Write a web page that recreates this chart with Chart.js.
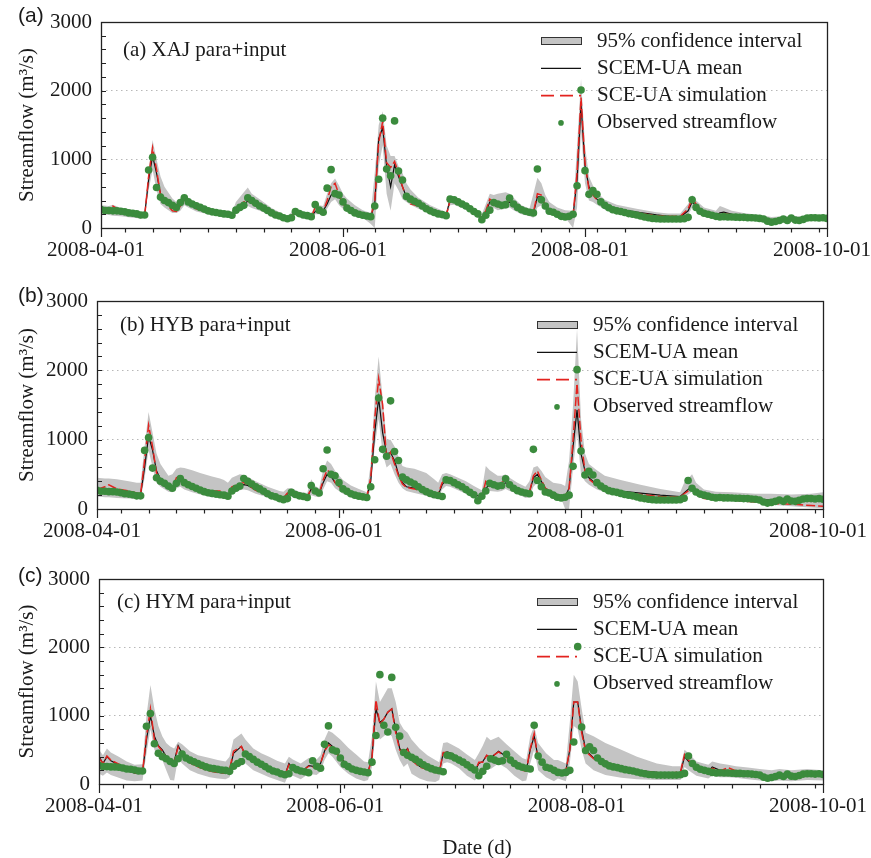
<!DOCTYPE html>
<html><head><meta charset="utf-8">
<script src="https://cdn.jsdelivr.net/npm/chart.js@4.4.1/dist/chart.umd.min.js"></script>
<style>
html,body{margin:0;padding:0;background:#fff;}
#wrap{position:relative;width:871px;height:858px;overflow:hidden;background:#fff;}
canvas{position:absolute;left:0;}
</style></head><body>
<div id="wrap">
<canvas id="ca" width="871" height="280" style="top:0px"></canvas>
<canvas id="cb" width="871" height="276" style="top:280px"></canvas>
<canvas id="cc" width="871" height="302" style="top:556px"></canvas>
</div>
<script>
// ---------------- DATA ----------------
const tickDays = [0, 61, 122, 183];
const tickLabels = ['2008-04-01', '2008-06-01', '2008-08-01', '2008-10-01'];
const yTicks = [0, 1000, 2000, 3000];
const seriesNames = ['95% confidence interval', 'SCEM-UA mean', 'SCE-UA simulation', 'Observed streamflow'];
const panelTitles = ['(a) XAJ para+input', '(b) HYB para+input', '(c) HYM para+input'];
const panelLetters = ['(a)', '(b)', '(c)'];

// observed daily streamflow, day 0 = 2008-04-01
const observed = [
 270,255,255,250,250,245,235,220,215,205,
 190,190,845,1030,590,450,400,370,330,300,
 370,440,380,350,325,300,275,250,235,225,
 215,205,200,185,260,300,330,440,400,360,
 320,290,255,220,190,175,150,135,150,240,
 210,190,180,165,340,260,230,580,850,500,
 480,380,290,255,220,200,185,175,165,320,
 710,1600,860,760,1560,830,700,460,420,390,
 360,320,280,250,225,205,195,180,420,410,
 380,350,320,280,240,205,120,185,260,370,
 350,330,340,435,350,300,265,245,230,220,
 860,410,320,245,230,200,170,160,170,200,
 615,2010,835,490,545,490,380,330,295,265,
 250,240,225,210,200,190,175,160,150,140,
 135,130,130,130,130,130,130,135,155,410,
 300,245,215,200,185,170,160,165,160,160,
 158,155,155,150,150,145,140,130,100,85,
 95,110,130,110,145,115,110,125,145,150,
 150,145,150,140];

// (a) XAJ
const xajDays = [0,2,3,5,8,10,11,12,13,14,
 15,16,18,19,20,21,22,24,27,30,
 33,34,36,37,38,40,43,46,47,48,
 49,50,53,54,55,56,57,58,59,60,
 61,62,64,66,68,69,70,71,72,73,
 74,75,76,77,78,80,83,85,87,88,
 89,91,93,95,96,97,98,99,100,102,
 103,104,106,108,109,110,111,112,113,115,
 117,119,120,121,122,123,124,125,127,130,
 135,140,143,146,148,149,150,152,155,156,
 157,159,162,166,169,172,176,180,183];
const xajMean = [260,250,240,230,200,185,190,700,1050,800,
 500,420,300,280,330,430,380,300,240,210,
 185,260,350,390,370,320,230,160,140,170,
 240,210,170,240,260,250,350,480,520,450,
 380,320,250,200,165,350,1300,1460,900,600,
 920,750,600,450,410,330,260,220,185,420,
 400,340,290,200,150,220,380,360,320,340,
 380,330,260,220,220,450,460,320,260,220,
 200,190,700,1800,900,600,500,420,330,280,
 230,190,170,160,250,380,320,230,180,220,
 230,200,170,150,120,130,130,140,150];
const xajSim = [260,290,320,250,190,155,170,750,1170,850,
 480,380,250,240,320,410,360,280,230,200,
 180,280,380,400,360,300,220,150,130,170,
 230,200,160,300,260,240,400,600,650,480,
 350,290,240,190,160,400,1250,1550,950,880,
 970,800,600,440,350,320,250,210,180,400,
 390,330,280,190,150,250,420,380,310,350,
 420,340,250,210,230,500,480,310,250,210,
 190,190,800,1900,950,560,480,410,320,270,
 220,180,170,170,280,430,350,240,180,200,
 210,190,170,140,100,130,140,150,150];
const xajLow = [200,190,180,170,150,140,150,550,850,550,
 350,300,220,220,250,330,300,240,200,180,
 160,200,280,320,290,250,180,110,100,130,
 190,170,130,200,200,200,280,380,420,330,
 280,250,200,150,60,0,900,1200,500,250,
 650,550,420,380,340,280,210,180,150,330,
 340,290,240,150,110,160,260,290,260,280,
 300,260,200,170,150,300,330,250,210,180,
 150,0,300,1400,650,400,380,340,270,230,
 190,160,140,130,190,300,260,190,150,160,
 170,160,140,120,90,100,100,110,120];
const xajHigh = [330,320,340,290,250,230,230,850,1280,1000,
 750,600,430,380,430,480,440,360,290,250,
 220,380,520,590,500,420,290,200,180,230,
 280,250,210,330,330,320,500,650,720,620,
 500,430,330,260,220,800,1500,1700,1200,1050,
 1050,900,800,650,560,440,330,280,230,450,
 440,390,330,240,200,350,500,480,500,520,
 500,440,330,280,500,730,650,480,380,300,
 260,250,1200,2170,1200,750,620,520,410,340,
 280,230,210,210,350,480,400,300,250,320,
 300,250,220,190,160,170,170,180,190];

// (b) HYB
const hybDays = [0,2,3,5,8,10,11,12,13,14,
 15,16,18,19,20,21,22,24,26,29,
 31,32,33,34,36,37,38,40,43,46,
 47,48,49,51,53,54,55,56,57,58,
 59,60,62,64,66,68,69,70,71,72,
 73,74,75,76,77,78,80,83,85,86,
 87,88,89,91,93,95,97,98,99,101,
 102,103,104,106,108,109,110,111,112,113,
 115,117,118,119,120,121,122,123,124,126,
 128,132,137,142,147,148,150,151,153,156,
 160,166,170,175,180,183];
const hybMean = [280,260,250,240,230,210,210,600,1050,850,
 550,430,320,310,380,400,350,300,270,220,
 210,200,190,290,340,350,340,280,220,170,
 160,220,230,190,170,290,230,220,380,500,
 470,380,280,220,190,170,400,1100,1600,1100,
 800,810,700,500,380,320,300,250,210,200,
 350,420,400,340,280,210,170,300,350,320,
 340,380,340,280,220,240,450,500,400,300,
 230,190,180,300,900,1430,800,550,450,350,
 300,260,230,200,180,230,330,270,200,180,
 160,140,130,130,140,150];
const hybSim = [280,320,350,290,260,230,220,700,1210,900,
 520,420,300,300,450,480,400,290,270,260,
 260,200,190,320,360,380,350,270,210,170,
 160,230,230,190,170,300,240,220,420,560,
 520,380,270,210,180,170,450,1300,1880,1500,
 720,820,650,480,360,310,290,240,220,220,
 380,420,410,330,280,200,170,400,350,330,
 380,420,360,280,220,240,480,550,420,300,
 220,180,180,300,1000,1810,1000,550,430,340,
 280,240,210,180,170,220,300,220,150,140,
 130,100,80,70,50,40];
const hybLow = [180,170,170,160,150,140,140,450,850,600,
 380,320,250,240,300,320,280,240,210,170,
 160,150,150,220,270,280,270,220,170,130,
 120,160,180,150,130,200,180,170,280,400,
 380,300,220,170,140,120,300,900,1300,800,
 600,650,500,380,300,260,230,190,160,150,
 280,330,320,270,220,160,130,220,260,250,
 260,290,260,220,160,170,320,380,300,240,
 180,150,0,0,600,1100,500,400,350,280,
 240,200,180,160,140,170,250,200,150,130,
 110,90,60,40,20,10];
const hybHigh = [450,440,440,430,400,380,380,900,1400,1100,
 800,650,480,500,580,600,590,560,520,470,
 440,420,380,450,500,490,460,400,320,260,
 250,300,300,250,230,430,330,300,560,700,
 650,550,420,340,290,240,650,1600,2200,1600,
 1000,1000,900,750,620,600,580,520,430,380,
 500,520,500,450,400,330,270,620,560,480,
 480,500,450,380,320,400,600,620,550,460,
 380,360,330,700,1500,2600,1300,800,650,560,
 480,420,350,290,240,380,500,380,280,250,
 240,220,220,210,220,240];

// (c) HYM
const hymDays = [0,1,2,3,5,7,9,11,12,13,
 14,15,16,17,18,19,20,21,23,25,
 28,30,32,33,34,36,37,39,41,43,
 45,47,48,49,51,53,55,56,57,58,
 59,61,63,65,67,68,69,70,71,72,
 73,74,75,76,77,78,79,81,83,85,
 86,87,88,89,91,93,95,96,97,98,
 99,101,103,105,107,108,109,110,111,113,
 115,116,118,119,120,121,122,123,125,128,
 132,136,141,145,147,148,149,151,154,155,
 157,159,161,164,167,170,172,175,179,183];
const hymMean = [400,300,400,340,280,210,160,170,650,1000,
 700,560,500,400,320,330,560,450,320,260,
 200,170,160,200,450,550,420,320,270,220,
 180,130,300,230,170,270,250,300,480,600,
 550,380,270,200,150,170,400,1100,900,950,
 1050,1100,800,520,450,520,360,260,220,180,
 170,450,470,450,380,280,190,300,330,420,
 380,480,400,300,210,200,500,700,380,250,
 180,200,190,500,1200,1200,800,500,380,300,
 240,200,170,160,170,400,330,220,180,250,
 200,200,180,160,130,110,150,120,150,120];
const hymSim = [380,300,410,350,290,210,160,170,700,1100,
 650,550,480,390,300,320,540,430,310,250,
 190,170,160,210,480,550,420,310,260,210,
 170,130,280,220,170,260,240,300,480,570,
 540,370,260,190,150,170,380,1230,870,950,
 1050,1100,750,500,440,510,350,250,210,170,
 170,460,460,440,370,270,180,320,320,420,
 390,470,390,290,200,190,520,740,360,240,
 180,190,190,500,1200,1200,750,480,370,290,
 230,190,170,160,180,430,350,220,180,230,
 190,240,190,160,130,110,140,120,140,120];
const hymLow = [150,120,170,130,90,50,40,50,450,800,
 500,400,350,200,60,50,380,300,200,150,
 100,80,70,100,300,400,300,200,150,100,
 60,20,150,120,70,150,130,180,350,450,
 400,250,150,80,40,60,250,800,650,700,
 750,700,500,350,250,300,150,80,40,30,
 60,300,320,300,230,120,50,120,150,250,
 220,300,230,120,40,50,300,500,200,100,
 40,80,40,300,850,800,500,300,200,130,
 90,70,60,60,60,250,200,120,80,120,
 100,100,90,70,50,40,50,40,60,50];
const hymHigh = [500,420,520,460,400,330,280,290,1000,1450,
 1100,850,700,600,550,520,620,580,480,420,
 380,350,330,400,650,740,650,520,450,400,
 340,300,400,360,300,380,360,420,650,780,
 750,650,530,430,330,320,700,1500,1200,1300,
 1400,1400,1200,900,800,750,650,520,420,350,
 320,600,610,580,520,430,350,450,560,690,
 640,690,580,480,380,360,700,850,600,450,
 350,350,300,900,1600,1500,1100,750,700,600,
 500,400,300,260,260,500,450,330,280,330,
 300,280,260,240,220,200,220,200,220,200];

// ---------------- STYLE / LAYOUT ----------------
const SERIF = "'Liberation Serif','Times New Roman',serif";
const SANS = "'Liberation Sans',Arial,sans-serif";
const TXT = '#1a1a1a';
const CI_COLOR = '#c4c4c4';
const MEAN_COLOR = '#111111';
const SIM_COLOR = '#e3231f';
const OBS_COLOR = '#3b8b3d';
Chart.defaults.font.family = SERIF;
Chart.defaults.font.size = 21;
Chart.defaults.color = TXT;

const pts = (days, vals) => days.map((d, i) => ({x: d, y: vals[i]}));
const obsPts = observed.map((v, i) => ({x: i, y: v}));

const panels = [
  {id: 'ca', top: 0, H: 280, frame: {left: 101, right: 827, top: 22, bottom: 228},
   days: xajDays, mean: xajMean, sim: xajSim, low: xajLow, high: xajHigh,
   title: panelTitles[0], letter: panelLetters[0], titlePos: [123, 50], letterPos: [18, 16], legendTop: 41, xTitle: false},
  {id: 'cb', top: 280, H: 276, frame: {left: 97, right: 823, top: 301, bottom: 509},
   days: hybDays, mean: hybMean, sim: hybSim, low: hybLow, high: hybHigh,
   title: panelTitles[1], letter: panelLetters[1], titlePos: [120, 325], letterPos: [18, 296], legendTop: 325, xTitle: false},
  {id: 'cc', top: 556, H: 302, frame: {left: 99, right: 823, top: 579, bottom: 784},
   days: hymDays, mean: hymMean, sim: hymSim, low: hymLow, high: hymHigh,
   title: panelTitles[2], letter: panelLetters[2], titlePos: [117, 602], letterPos: [18, 576], legendTop: 602, xTitle: true}
];

const deco = {
  id: 'deco',
  afterDraw(chart, args, o) {
    const p = o.panel;
    const {ctx, chartArea: a, scales: {x, y}} = chart;
    const off = p.top;
    ctx.save();
    // frame
    ctx.strokeStyle = '#222';
    ctx.lineWidth = 1.3;
    ctx.strokeRect(Math.round(a.left) + 0.5, Math.round(a.top) + 0.5, Math.round(a.right - a.left), Math.round(a.bottom - a.top));
    // x ticks (weekly minor, major at labelled dates) and y ticks every 200 (inward)
    ctx.lineWidth = 1.2;
    ctx.beginPath();
    for (let d = 6; d <= 183; d += 7) {
      const px = Math.round(x.getPixelForValue(d)) + 0.5;
      ctx.moveTo(px, a.bottom); ctx.lineTo(px, a.bottom + 4.5);
    }
    tickDays.forEach(d => {
      const px = Math.round(x.getPixelForValue(d)) + 0.5;
      ctx.moveTo(px, a.bottom); ctx.lineTo(px, a.bottom + 9);
    });
    for (let v = 0; v <= 3000; v += 200) {
      const py = Math.round(y.getPixelForValue(v)) + 0.5;
      ctx.moveTo(a.left, py); ctx.lineTo(a.left + 5, py);
    }
    ctx.stroke();

    // panel letter (sans) and inner title (serif)
    ctx.fillStyle = TXT;
    ctx.textBaseline = 'middle';
    ctx.textAlign = 'left';
    ctx.font = '21px ' + SANS;
    ctx.fillText(p.letter, p.letterPos[0], p.letterPos[1] - off);
    ctx.font = '21px ' + SERIF;
    ctx.fillText(p.title, p.titlePos[0], p.titlePos[1] - off);

    // legend
    const tx = a.right - 230;
    const step = 27.3;
    const y0 = p.legendTop - off;
    const sx0 = tx - 56, sx1 = tx - 16;
    seriesNames.forEach((name, i) => {
      const ry = y0 + i * step;
      ctx.fillStyle = TXT;
      ctx.fillText(name, tx, ry);
      ctx.save();
      if (i === 0) {
        ctx.fillStyle = CI_COLOR;
        ctx.fillRect(sx0, ry - 3.5, sx1 - sx0, 7);
        ctx.strokeStyle = '#333'; ctx.lineWidth = 1;
        ctx.strokeRect(sx0 + 0.5, ry - 3.5, sx1 - sx0, 7);
      } else if (i === 1) {
        ctx.strokeStyle = MEAN_COLOR; ctx.lineWidth = 1.3;
        ctx.beginPath(); ctx.moveTo(sx0, ry); ctx.lineTo(sx1, ry); ctx.stroke();
      } else if (i === 2) {
        ctx.strokeStyle = SIM_COLOR; ctx.lineWidth = 1.6; ctx.setLineDash([13, 6]);
        ctx.beginPath(); ctx.moveTo(sx0, ry); ctx.lineTo(sx1, ry); ctx.stroke();
      } else {
        ctx.fillStyle = OBS_COLOR;
        ctx.beginPath(); ctx.arc((sx0 + sx1) / 2, ry, 2.8, 0, Math.PI * 2); ctx.fill();
      }
      ctx.restore();
    });

    if (p.xTitle) {
      ctx.font = '21px ' + SERIF;
      ctx.textAlign = 'center';
      ctx.fillStyle = TXT;
      ctx.fillText('Date (d)', 477, 848 - off);
    }
    ctx.restore();
  }
};

panels.forEach(p => {
  const f = p.frame;
  new Chart(document.getElementById(p.id), {
    type: 'line',
    data: {
      datasets: [
        {label: 'CI low', data: pts(p.days, p.low), borderWidth: 0, borderColor: 'rgba(0,0,0,0)', pointRadius: 0, fill: false, order: 4},
        {label: seriesNames[0], data: pts(p.days, p.high), borderWidth: 0, borderColor: 'rgba(0,0,0,0)', pointRadius: 0, fill: '-1', backgroundColor: CI_COLOR, order: 3},
        {label: seriesNames[1], data: pts(p.days, p.mean), borderColor: MEAN_COLOR, borderWidth: 1.2, pointRadius: 0, fill: false, order: 2},
        {label: seriesNames[2], data: pts(p.days, p.sim), borderColor: SIM_COLOR, borderWidth: 1.5, borderDash: [9, 3], pointRadius: 0, fill: false, order: 1},
        {label: seriesNames[3], data: obsPts, showLine: false, pointRadius: 3.8, pointBackgroundColor: OBS_COLOR, pointBorderWidth: 0, pointBorderColor: OBS_COLOR, order: 0}
      ]
    },
    options: {
      responsive: false,
      animation: false,
      events: [],
      layout: {autoPadding: false, padding: {left: 0, right: 871 - f.right, top: f.top - p.top, bottom: 0}},
      plugins: {legend: {display: false}, tooltip: {enabled: false}, title: {display: false}, deco: {panel: p}},
      scales: {
        x: {
          type: 'linear', min: 0, max: 183,
          afterBuildTicks: s => { s.ticks = tickDays.map(v => ({value: v})); },
          afterFit: s => { s.height = p.H - (f.bottom - p.top); s.paddingLeft = 0; s.paddingRight = 0; },
          ticks: {autoSkip: false, maxRotation: 0, padding: 10, labelOffset: -5, color: TXT, font: {size: 21},
                  callback: (v, i) => tickLabels[i]},
          grid: {display: false, drawTicks: false},
          border: {display: false}
        },
        y: {
          min: 0, max: 3000,
          afterBuildTicks: s => { s.ticks = yTicks.map(v => ({value: v})); },
          afterFit: s => { s.width = f.left; s.paddingTop = 0; s.paddingBottom = 0; },
          ticks: {padding: 9, color: TXT, font: {size: 21}, callback: v => String(v)},
          grid: {drawTicks: false, lineWidth: 1,
                 color: c => (c.tick && c.tick.value > 0 && c.tick.value < 3000) ? '#b8b8b8' : 'rgba(0,0,0,0)'},
          border: {display: false, dash: [1.5, 3.5]},
          title: {display: true, text: 'Streamflow (m³/s)', color: TXT, font: {size: 21}, padding: {top: 15, bottom: 0}}
        }
      }
    },
    plugins: [deco]
  });
});
</script>
</body></html>
